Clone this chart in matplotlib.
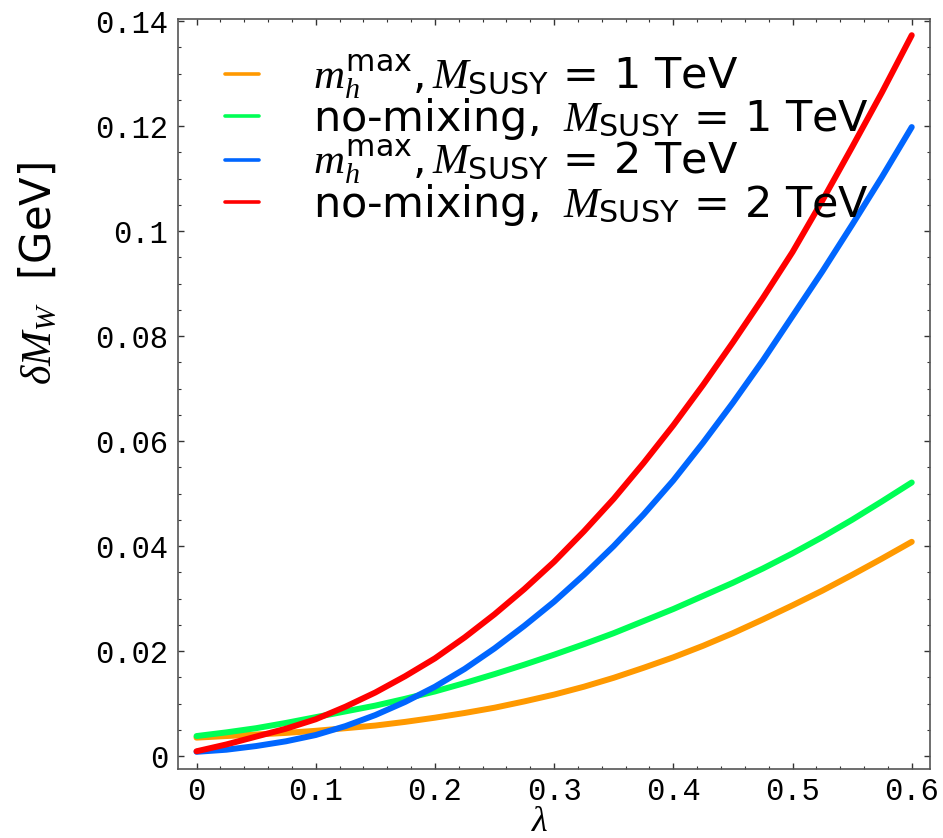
import matplotlib
matplotlib.use("Agg")
import matplotlib.pyplot as plt
from matplotlib.ticker import MultipleLocator, FuncFormatter

plt.rcParams['mathtext.fontset'] = 'custom'
plt.rcParams['mathtext.rm'] = 'DejaVu Sans'
plt.rcParams['mathtext.it'] = 'Liberation Serif:italic'
plt.rcParams['font.family'] = ['DejaVu Sans']

# lambda values
lam = [0.0, 0.025, 0.05, 0.075, 0.1, 0.125, 0.15, 0.175, 0.2, 0.225, 0.25, 0.275,
       0.3, 0.325, 0.35, 0.375, 0.4, 0.425, 0.45, 0.475, 0.5, 0.525, 0.55, 0.575, 0.6]

# delta M_W [GeV]
mhmax_1tev = [0.0035, 0.0038, 0.0041, 0.0044, 0.0048, 0.0053, 0.0058, 0.0065, 0.0073,
              0.0082, 0.0092, 0.0104, 0.0117, 0.0132, 0.0149, 0.0168, 0.0188, 0.0210,
              0.0234, 0.0260, 0.0287, 0.0315, 0.0345, 0.0376, 0.0408]
nomix_1tev = [0.0038, 0.0045, 0.0053, 0.0063, 0.0074, 0.0085, 0.0096, 0.0109, 0.0123,
              0.0139, 0.0156, 0.0174, 0.0193, 0.0213, 0.0234, 0.0257, 0.0280, 0.0305,
              0.0330, 0.0357, 0.0386, 0.0417, 0.0450, 0.0485, 0.0521]
mhmax_2tev = [0.0008, 0.0012, 0.0019, 0.0028, 0.0040, 0.0057, 0.0078, 0.0103, 0.0132,
              0.0166, 0.0205, 0.0248, 0.0294, 0.0345, 0.0400, 0.0460, 0.0525, 0.0597,
              0.0673, 0.0753, 0.0838, 0.0923, 0.1012, 0.1103, 0.1198]
nomix_2tev = [0.0009, 0.0022, 0.0037, 0.0052, 0.0070, 0.0094, 0.0121, 0.0152, 0.0186,
              0.0226, 0.0270, 0.0318, 0.0370, 0.0428, 0.0490, 0.0558, 0.0630, 0.0707,
              0.0788, 0.0872, 0.0960, 0.1058, 0.1160, 0.1264, 0.1373]

labels = [r'$m_h^{\mathrm{max}}, M_{\mathrm{SUSY}}\;=\;1$ TeV',
          r'no-mixing, $\;M_{\mathrm{SUSY}}\;=\;1$ TeV',
          r'$m_h^{\mathrm{max}}, M_{\mathrm{SUSY}}\;=\;2$ TeV',
          r'no-mixing, $\;M_{\mathrm{SUSY}}\;=\;2$ TeV']
colors = ['#FF9900', '#00FF55', '#0066FF', '#FF0000']
series = [mhmax_1tev, nomix_1tev, mhmax_2tev, nomix_2tev]

fig = plt.figure(figsize=(9.43, 8.38), dpi=100)
ax = fig.add_axes([0.1888, 0.0823, 0.7974, 0.895])

for ys, c, lab in zip(series, colors, labels):
    ax.plot(lam, ys, color=c, lw=4.3, solid_capstyle='round', label=lab)

ax.set_xlim(-0.0155, 0.6153)
ax.set_ylim(-0.00248, 0.14038)

ax.xaxis.set_major_locator(MultipleLocator(0.1))
ax.xaxis.set_minor_locator(MultipleLocator(0.02))
ax.yaxis.set_major_locator(MultipleLocator(0.02))
ax.yaxis.set_minor_locator(MultipleLocator(0.005))

def fmt(v, pos):
    s = '%.2f' % v
    s = s.rstrip('0').rstrip('.')
    return '0' if s in ('-0', '') else s

ax.xaxis.set_major_formatter(FuncFormatter(fmt))
ax.yaxis.set_major_formatter(FuncFormatter(fmt))

ax.tick_params(which='both', direction='in', top=True, right=True, colors='#333333')
ax.tick_params(which='major', length=4.5, width=1.0)
ax.tick_params(which='minor', length=2.3, width=0.8)
ax.tick_params(axis='y', labelsize=22, pad=7, labelcolor='black')
ax.tick_params(axis='x', labelsize=22, pad=6, labelcolor='black')
for lbl in ax.get_xticklabels() + ax.get_yticklabels():
    lbl.set_fontfamily('Liberation Mono')
for sp in ax.spines.values():
    sp.set_color('#555555')
    sp.set_linewidth(1.2)

ax.set_xlabel(r'$\lambda$', fontsize=26)
ax.xaxis.set_label_coords(0.481, -0.047)
ax.set_ylabel(r'$\delta M_W$  [GeV]', fontsize=30)
ax.yaxis.set_label_coords(-0.157, 0.66)

leg = ax.legend(loc='upper left', bbox_to_anchor=(0.028, 0.99), fontsize=31, frameon=False,
                handlelength=0.8, handletextpad=1.25, labelspacing=-0.1,
                borderaxespad=0.2)
for h in leg.get_lines():
    h.set_linewidth(2.6)

fig.savefig('out.png', dpi=100)
